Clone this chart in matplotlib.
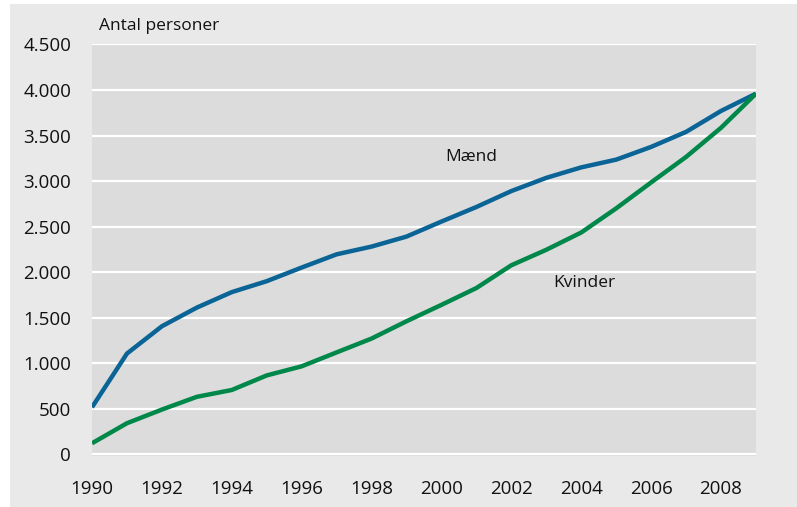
import matplotlib

matplotlib.use('Agg')
import matplotlib.pyplot as plt
from matplotlib.patches import Rectangle

years = list(range(1990, 2010))
maend = [515, 1105, 1405, 1610, 1780, 1900, 2050, 2195, 2280, 2390,
         2555, 2715, 2890, 3035, 3150, 3235, 3375, 3540, 3770, 3960]
kvinder = [120, 340, 490, 630, 705, 865, 965, 1118, 1270, 1460,
           1640, 1825, 2075, 2245, 2435, 2700, 2985, 3265, 3585, 3960]
yticks = [0, 500, 1000, 1500, 2000, 2500, 3000, 3500, 4000, 4500]
ytick_labels = ['0', '500', '1.000', '1.500', '2.000', '2.500',
                '3.000', '3.500', '4.000', '4.500']
xticks = list(range(1990, 2010, 2))

plt.rcParams['font.family'] = ['Open Sans', 'DejaVu Sans']

fig = plt.figure(figsize=(7.97, 5.07), dpi=100, facecolor='white')
# outer light grey panel
fig.patches.append(Rectangle((10 / 797, 0), 1, 503 / 507, transform=fig.transFigure,
                             facecolor='#e9e9e9', edgecolor='none', zorder=-10))

ax = fig.add_axes([92 / 797, 1 - 456 / 507, 664 / 797, 412 / 507])
ax.set_facecolor('#dcdcdc')

ax.plot(years, maend, color='#0a6496', lw=3.2, solid_capstyle='butt', zorder=3)
ax.plot(years, kvinder, color='#00884a', lw=3.2, solid_capstyle='butt', zorder=3)

ax.set_xlim(1990, 2009)
ax.set_ylim(-20, 4505)
ax.set_yticks(yticks)
ax.set_yticklabels(ytick_labels)
ax.set_xticks(xticks)
ax.grid(axis='y', color='white', lw=1.6)
ax.set_axisbelow(True)
for s in ax.spines.values():
    s.set_visible(False)
ax.tick_params(axis='both', length=0, labelsize=13.5, colors='#111111')
ax.tick_params(axis='y', pad=15)
ax.tick_params(axis='x', pad=17)

ax.text(0.01, 1.025, 'Antal personer', transform=ax.transAxes, fontsize=12.5,
        color='#111111', va='bottom', ha='left')
ax.text(2000.1, 3260, 'Mænd', fontsize=12.5, color='#111111', va='center', ha='left')
ax.text(2003.2, 1880, 'Kvinder', fontsize=12.5, color='#111111', va='center', ha='left')

plt.savefig('out.png', dpi=100, facecolor=fig.get_facecolor())
